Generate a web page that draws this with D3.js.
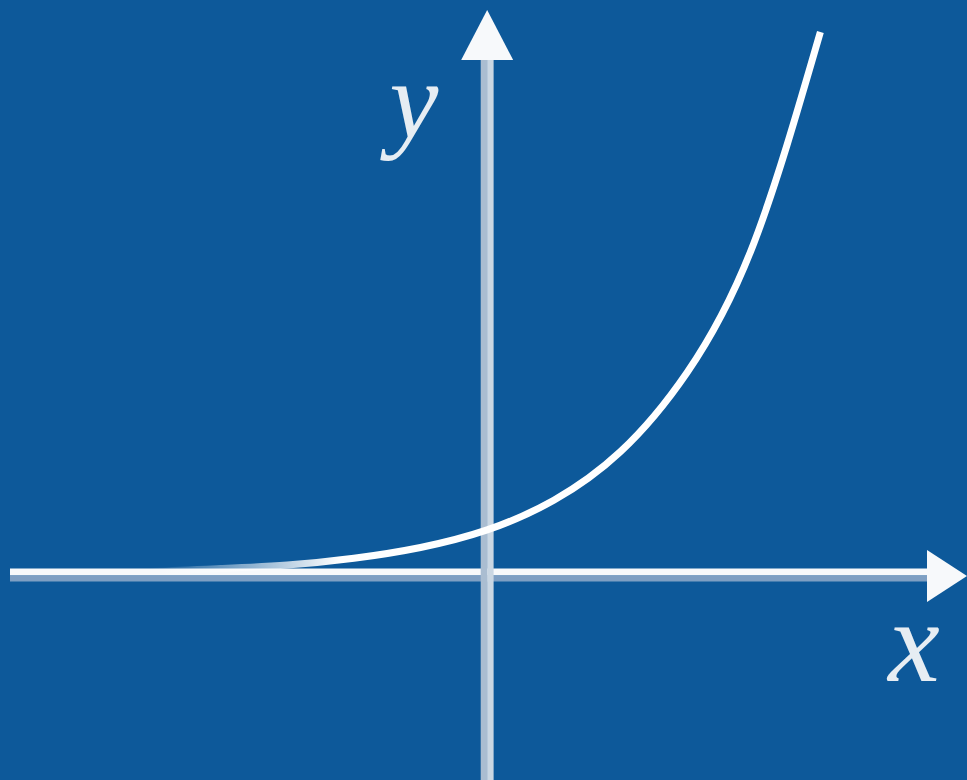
<!DOCTYPE html>
<html>
<head>
<meta charset="utf-8">
<script src="https://cdn.jsdelivr.net/npm/d3@7"></script>
<style>
  html, body { margin: 0; padding: 0; background: #0d599a; }
  svg { display: block; }
</style>
</head>
<body>
<div id="chart"></div>
<script>
// points (x in axis units, y in axis units)
const curveX = [-3.5, -3, -2.5, -2, -1.5, -1, -0.5, 0, 0.5, 1, 1.5, 2, 2.5];
const curveY = [0.03, 0.05, 0.08, 0.14, 0.22, 0.37, 0.61, 1.0, 1.66, 2.74, 4.5, 7.37, 12.07];
const xDomain = [-3.58, 3.6];
const yDomain = [-4.56, 12.56];
const axisLabels = ['x', 'y'];

const width = 967, height = 780;
const bg = '#0d599a';

const x = d3.scaleLinear().domain(xDomain).range([10, 967]);
const y = d3.scaleLinear().domain(yDomain).range([780, 10]);

const svg = d3.select('#chart').append('svg')
    .attr('width', width)
    .attr('height', height);

svg.append('rect')
    .attr('width', width)
    .attr('height', height)
    .attr('fill', bg);

const defs = svg.append('defs');
const grad = defs.append('linearGradient')
    .attr('id', 'fade')
    .attr('gradientUnits', 'userSpaceOnUse')
    .attr('x1', 150).attr('x2', 340)
    .attr('y1', 0).attr('y2', 0);
grad.append('stop').attr('offset', 0).attr('stop-color', '#ffffff').attr('stop-opacity', 0);
grad.append('stop').attr('offset', 1).attr('stop-color', '#ffffff').attr('stop-opacity', 1);

defs.append('filter').attr('id', 'soft')
    .append('feGaussianBlur').attr('stdDeviation', 0.7);

const g = svg.append('g').attr('filter', 'url(#soft)');

const x0 = x(0), y0 = y(0);

// x axis: white top band, bluish-grey lower band
g.append('line')
    .attr('x1', x(xDomain[0])).attr('x2', x(xDomain[1]) - 30)
    .attr('y1', y0 - 3).attr('y2', y0 - 3)
    .attr('stroke', '#f7f9fb').attr('stroke-width', 7);
g.append('line')
    .attr('x1', x(xDomain[0])).attr('x2', x(xDomain[1]) - 30)
    .attr('y1', y0 + 3.5).attr('y2', y0 + 3.5)
    .attr('stroke', '#7e9fc3').attr('stroke-width', 6);
g.append('path')
    .attr('d', `M${x(xDomain[1])},${y0 + 1} L${x(xDomain[1]) - 40},${y0 - 25} L${x(xDomain[1]) - 40},${y0 + 27} Z`)
    .attr('fill', '#f7f9fb');

// y axis: two tone vertical bar
g.append('line')
    .attr('x1', x0 - 3.2).attr('x2', x0 - 3.2)
    .attr('y1', y(yDomain[0])).attr('y2', y(yDomain[1]) + 40)
    .attr('stroke', '#aabdd1').attr('stroke-width', 6.5);
g.append('line')
    .attr('x1', x0 + 3.2).attr('x2', x0 + 3.2)
    .attr('y1', y(yDomain[0])).attr('y2', y(yDomain[1]) + 40)
    .attr('stroke', '#cad7e3').attr('stroke-width', 6.5);
g.append('path')
    .attr('d', `M${x0},${y(yDomain[1])} L${x0 - 26},${y(yDomain[1]) + 50} L${x0 + 26},${y(yDomain[1]) + 50} Z`)
    .attr('fill', '#f7f9fb');

// the curve
const line = d3.line()
    .x(d => x(d[0]))
    .y(d => y(d[1]))
    .curve(d3.curveNatural);

g.append('path')
    .datum(curveX.map((v, i) => [v, curveY[i]]))
    .attr('d', line)
    .attr('fill', 'none')
    .attr('stroke', 'url(#fade)')
    .attr('stroke-width', 7)
    .attr('stroke-linecap', 'butt');

// axis labels
const labelFont = "'Liberation Serif', serif";

g.append('text')
    .attr('x', 914).attr('y', 681)
    .attr('text-anchor', 'middle')
    .attr('font-family', labelFont)
    .attr('font-style', 'italic')
    .attr('font-size', 116)
    .attr('fill', '#e6edf3')
    .text(axisLabels[0]);

g.append('text')
    .attr('x', 414).attr('y', 138)
    .attr('text-anchor', 'middle')
    .attr('font-family', labelFont)
    .attr('font-style', 'italic')
    .attr('font-size', 110)
    .attr('fill', '#e6edf3')
    .text(axisLabels[1]);
</script>
</body>
</html>
